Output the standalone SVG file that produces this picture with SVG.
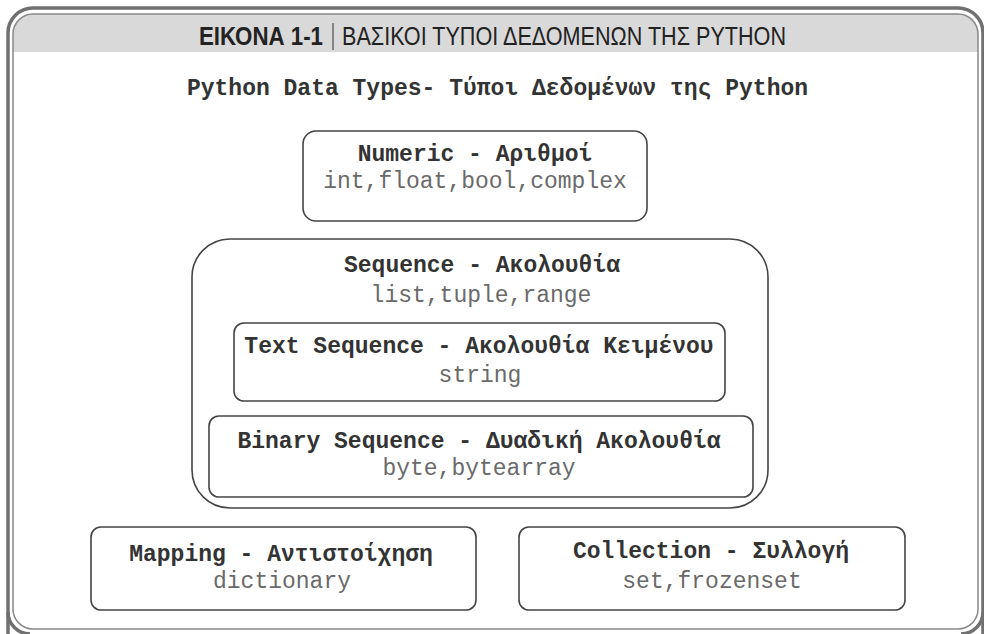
<svg xmlns="http://www.w3.org/2000/svg" width="984" height="634" viewBox="0 0 984 634">
<style>
.box{fill:none;stroke:#444;stroke-width:1.6}
.lbl{font-family:"Courier New","Liberation Mono",monospace;font-size:23px;font-weight:bold;fill:#333;text-anchor:middle}
.sub{font-family:"Courier New","Liberation Mono",monospace;font-size:23px;fill:#6a6a6a;text-anchor:middle}
.hdr{font-family:"Liberation Sans Narrow","Liberation Sans","Noto Sans",sans-serif;font-size:25px;fill:#222}
</style>
<rect width="984" height="634" fill="#fff"/>
<g id="frame">
<path d="M13,52 V34 A20,20 0 0 1 33,14 H958 A20,20 0 0 1 978,34 V52 Z" fill="#d9d9d9"/>
<path d="M8,640 V33 A25,25 0 0 1 33,8 H958 A25,25 0 0 1 983,33 V640" fill="none" stroke="#707070" stroke-width="3.5"/>
<path d="M13,612 V34 A20,20 0 0 1 33,14 H958 A20,20 0 0 1 978,34 V609 A20,20 0 0 1 958,629 H33 A20,20 0 0 1 13,609 Z" fill="none" stroke="#888" stroke-width="1.5"/>
<path d="M8,612 A22,22 0 0 0 30,634" fill="none" stroke="#707070" stroke-width="3.5"/>
<path d="M983,612 A22,22 0 0 1 961,634" fill="none" stroke="#707070" stroke-width="3.5"/>
<text class="hdr" x="199" y="45" font-weight="bold" textLength="124" lengthAdjust="spacingAndGlyphs">ΕΙΚΟΝΑ 1-1</text>
<line x1="333" y1="23" x2="333" y2="50" stroke="#333" stroke-width="1"/>
<text class="hdr" x="342" y="45" textLength="444" lengthAdjust="spacingAndGlyphs">ΒΑΣΙΚΟΙ ΤΥΠΟΙ ΔΕΔΟΜΕΝΩΝ ΤΗΣ PYTHON</text>
</g>
<g id="title">
<text class="lbl" x="497.5" y="95">Python Data Types- Τύποι Δεδομένων της Python</text>
</g>
<g id="numeric">
<rect class="box" x="303" y="131" width="344" height="90" rx="13"/>
<text class="lbl" x="475" y="161">Numeric - Αριθμοί</text>
<text class="sub" x="475" y="188">int,float,bool,complex</text>
</g>
<g id="sequence">
<rect class="box" x="192" y="239" width="576" height="269" rx="38"/>
<text class="lbl" x="482" y="272">Sequence - Ακολουθία</text>
<text class="sub" x="481" y="302">list,tuple,range</text>
</g>
<g id="text-sequence">
<rect class="box" x="234" y="323" width="491" height="78" rx="10"/>
<text class="lbl" x="479" y="353">Text Sequence - Ακολουθία Κειμένου</text>
<text class="sub" x="480" y="382">string</text>
</g>
<g id="binary-sequence">
<rect class="box" x="209" y="416" width="544" height="81" rx="10"/>
<text class="lbl" x="479" y="448">Binary Sequence - Δυαδική Ακολουθία</text>
<text class="sub" x="479" y="475">byte,bytearray</text>
</g>
<g id="mapping">
<rect class="box" x="91" y="527" width="385" height="83" rx="10"/>
<text class="lbl" x="281" y="561">Mapping - Αντιστοίχηση</text>
<text class="sub" x="282" y="588">dictionary</text>
</g>
<g id="collection">
<rect class="box" x="519" y="527" width="386" height="83" rx="10"/>
<text class="lbl" x="711" y="558">Collection - Συλλογή</text>
<text class="sub" x="712" y="588">set,frozenset</text>
</g>
<g id="connectors"/>
</svg>
